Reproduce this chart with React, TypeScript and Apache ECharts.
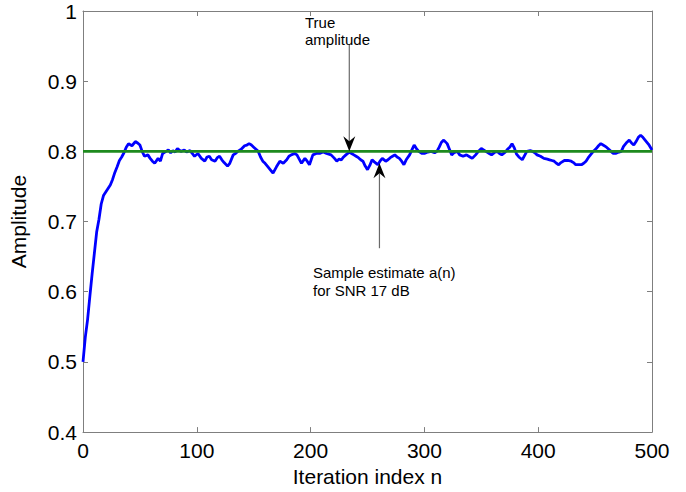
import React, { useEffect, useRef } from "react";
import * as echarts from "echarts";

const iterations = [
  0, 2, 4, 6, 8, 10, 12, 14, 16, 18, 20, 22, 24, 26, 28, 30, 32, 34, 36, 38, 40,
  43, 46, 48, 50, 52, 54, 57, 59, 61, 63, 66, 68, 70, 73, 75, 77, 79, 81, 83, 86,
  89, 91, 94, 96, 98, 101, 104, 107, 109, 111, 113, 116, 118, 120, 122, 124, 127,
  129, 132, 134, 136, 139, 142, 144, 146, 148, 150, 152, 154, 156, 158, 160, 162,
  165, 167, 170, 173, 176, 179, 181, 183, 186, 188, 190, 192, 195, 197, 199, 202,
  205, 208, 211, 214, 216, 218, 221, 223, 225, 227, 229, 231, 234, 236, 238, 240,
  242, 244, 246, 248, 250, 252, 254, 256, 259, 261, 263, 266, 268, 270, 272, 274,
  276, 278, 280, 282, 284, 287, 289, 291, 293, 295, 298, 300, 303, 306, 309, 311,
  313, 315, 317, 320, 322, 324, 326, 329, 331, 334, 337, 340, 342, 345, 348, 350,
  352, 354, 357, 359, 362, 364, 366, 368, 371, 373, 375, 377, 379, 381, 383, 386,
  388, 390, 393, 395, 397, 399, 402, 405, 408, 410, 412, 414, 416, 418, 420, 423,
  426, 429, 431, 433, 436, 438, 440, 442, 444, 447, 449, 451, 453, 455, 457, 460,
  462, 464, 466, 468, 471, 473, 475, 478, 480, 482, 484, 486, 488, 490, 492, 495,
  497, 500,
];

const estimate = [
  0.5, 0.535, 0.56, 0.593, 0.625, 0.655, 0.685, 0.703, 0.725, 0.737, 0.742, 0.747,
  0.752, 0.76, 0.77, 0.778, 0.787, 0.792, 0.798, 0.806, 0.811,
  0.808, 0.814, 0.812, 0.809, 0.8, 0.793, 0.795, 0.79, 0.786, 0.783, 0.79, 0.786,
  0.797, 0.8, 0.802, 0.798, 0.801, 0.799, 0.804, 0.8,
  0.802, 0.799, 0.801, 0.797, 0.793, 0.797, 0.79, 0.786, 0.792, 0.793, 0.788,
  0.786, 0.791, 0.793, 0.788, 0.784, 0.779,
  0.783, 0.795, 0.797, 0.8, 0.803, 0.808, 0.809, 0.811, 0.809, 0.806, 0.803, 0.8,
  0.792, 0.786, 0.783, 0.779,
  0.773, 0.769, 0.778, 0.786, 0.783, 0.788, 0.793, 0.795, 0.797, 0.795, 0.789,
  0.783, 0.79, 0.786, 0.781, 0.795,
  0.797, 0.797, 0.799, 0.797, 0.796, 0.795, 0.79, 0.786, 0.789, 0.788, 0.792,
  0.795, 0.799, 0.797, 0.795, 0.793,
  0.791, 0.788, 0.786, 0.779, 0.774, 0.78, 0.788, 0.785, 0.781, 0.786, 0.79,
  0.786, 0.788, 0.791, 0.793, 0.795,
  0.792, 0.79, 0.786, 0.781, 0.788, 0.795, 0.802, 0.809, 0.804, 0.8, 0.797,
  0.797, 0.799, 0.8, 0.798, 0.8,
  0.806, 0.813, 0.816, 0.811, 0.803, 0.795, 0.798, 0.8, 0.795, 0.793, 0.795,
  0.792, 0.79, 0.795, 0.801, 0.804,
  0.802, 0.8, 0.797, 0.795, 0.799, 0.8, 0.797, 0.795, 0.799, 0.803, 0.806,
  0.811, 0.805, 0.796, 0.792, 0.788,
  0.794, 0.8, 0.801, 0.8, 0.798, 0.795, 0.793, 0.79, 0.789, 0.788, 0.787, 0.786,
  0.783, 0.781, 0.784, 0.787,
  0.787, 0.786, 0.784, 0.781, 0.781, 0.781, 0.783, 0.786, 0.791, 0.797, 0.801,
  0.804, 0.808, 0.811, 0.809, 0.806,
  0.803, 0.8, 0.797, 0.797, 0.799, 0.8, 0.807, 0.813, 0.816, 0.812, 0.809, 0.814,
  0.82, 0.823, 0.82, 0.814,
  0.81, 0.802,
];

const trueAmplitude = 0.8;
const xRange = [0, 500];
const yRange = [0.4, 1];
const xStep = 100;
const yStep = 0.1;

const axisTitleX = "Iteration index n";
const axisTitleY = "Amplitude";
const trueLabel = "True\namplitude";
const estimateLabel = "Sample estimate a(n)\nfor SNR 17 dB";

// annotation arrows in data coordinates: [n, tail value, tip value]
const trueArrow = [234, 0.952, 0.8];
const estimateArrow = [260.5, 0.662, 0.783];

const FONT = "Liberation Sans, Arial, Helvetica, sans-serif";
const AXIS_COLOR = "#7f7f7f";

export default function App() {
  const ref = useRef<HTMLDivElement>(null);

  useEffect(() => {
    if (!ref.current) return;
    const chart = echarts.init(ref.current, undefined, { renderer: "svg" });

    const estData = iterations.map((n, i) => [n, estimate[i]]);
    const trueData = [
      [xRange[0], trueAmplitude],
      [xRange[1], trueAmplitude],
    ];

    const baseAxis = {
      type: "value" as const,
      axisLine: { show: true, onZero: false, lineStyle: { color: AXIS_COLOR, width: 1 } },
      axisTick: { show: true, inside: true, length: 5, lineStyle: { color: AXIS_COLOR } },
      splitLine: { show: false },
    };

    const fmt = (v: number) => String(parseFloat(v.toFixed(1)));

    chart.setOption({
      animation: false,
      backgroundColor: "#ffffff",
      grid: { left: 83, right: 34, top: 11, bottom: 55, containLabel: false },
      xAxis: [
        {
          ...baseAxis,
          position: "bottom",
          min: xRange[0],
          max: xRange[1],
          interval: xStep,
          name: axisTitleX,
          nameLocation: "middle",
          nameGap: 22,
          nameTextStyle: { fontFamily: FONT, fontSize: 21, color: "#000" },
          axisLabel: { fontFamily: FONT, fontSize: 21, color: "#000", margin: 8 },
        },
        {
          ...baseAxis,
          position: "top",
          min: xRange[0],
          max: xRange[1],
          interval: xStep,
          axisLabel: { show: false },
        },
      ],
      yAxis: [
        {
          ...baseAxis,
          position: "left",
          min: yRange[0],
          max: yRange[1],
          interval: yStep,
          name: axisTitleY,
          nameLocation: "middle",
          nameGap: 54,
          nameTextStyle: { fontFamily: FONT, fontSize: 21, color: "#000" },
          axisLabel: { fontFamily: FONT, fontSize: 21, color: "#000", margin: 6, formatter: fmt },
        },
        {
          ...baseAxis,
          position: "right",
          min: yRange[0],
          max: yRange[1],
          interval: yStep,
          axisLabel: { show: false },
        },
      ],
      series: [
        {
          type: "line",
          data: estData,
          showSymbol: false,
          symbol: "none",
          lineStyle: { color: "#0000ff", width: 2.8 },
          z: 2,
        },
        {
          type: "line",
          data: trueData,
          showSymbol: false,
          symbol: "none",
          lineStyle: { color: "#1e8a1e", width: 2.6 },
          z: 3,
        },
      ],
    });

    const arrow = (a: number[]) => {
      const tail = chart.convertToPixel({ gridIndex: 0 }, [a[0], a[1]]) as number[];
      const tip = chart.convertToPixel({ gridIndex: 0 }, [a[0], a[2]]) as number[];
      const dir = tip[1] > tail[1] ? 1 : -1; // +1 = pointing down
      const x = tip[0];
      const ty = tip[1];
      const headLen = 15;
      const notch = 10;
      const half = 6;
      return [
        {
          type: "line",
          z: 10,
          shape: { x1: x, y1: tail[1], x2: x, y2: ty - dir * notch },
          style: { stroke: "#6a6a6a", lineWidth: 1.2 },
        },
        {
          type: "polygon",
          z: 11,
          shape: {
            points: [
              [x, ty],
              [x - half, ty - dir * headLen],
              [x, ty - dir * notch],
              [x + half, ty - dir * headLen],
            ],
          },
          style: { fill: "#000" },
        },
      ];
    };

    chart.setOption({
      graphic: [
        ...arrow(trueArrow),
        ...arrow(estimateArrow),
        {
          type: "text",
          left: 305,
          top: 14,
          z: 12,
          style: { text: trueLabel, font: `15px ${FONT}`, fill: "#000", lineHeight: 17 },
        },
        {
          type: "text",
          left: 313,
          top: 263,
          z: 12,
          style: { text: estimateLabel, font: `15px ${FONT}`, fill: "#000", lineHeight: 18 },
        },
      ],
    });

    return () => chart.dispose();
  }, []);

  return (
    <div
      ref={ref}
      style={{ position: "absolute", left: 0, top: 0, width: 686, height: 492 }}
    />
  );
}
